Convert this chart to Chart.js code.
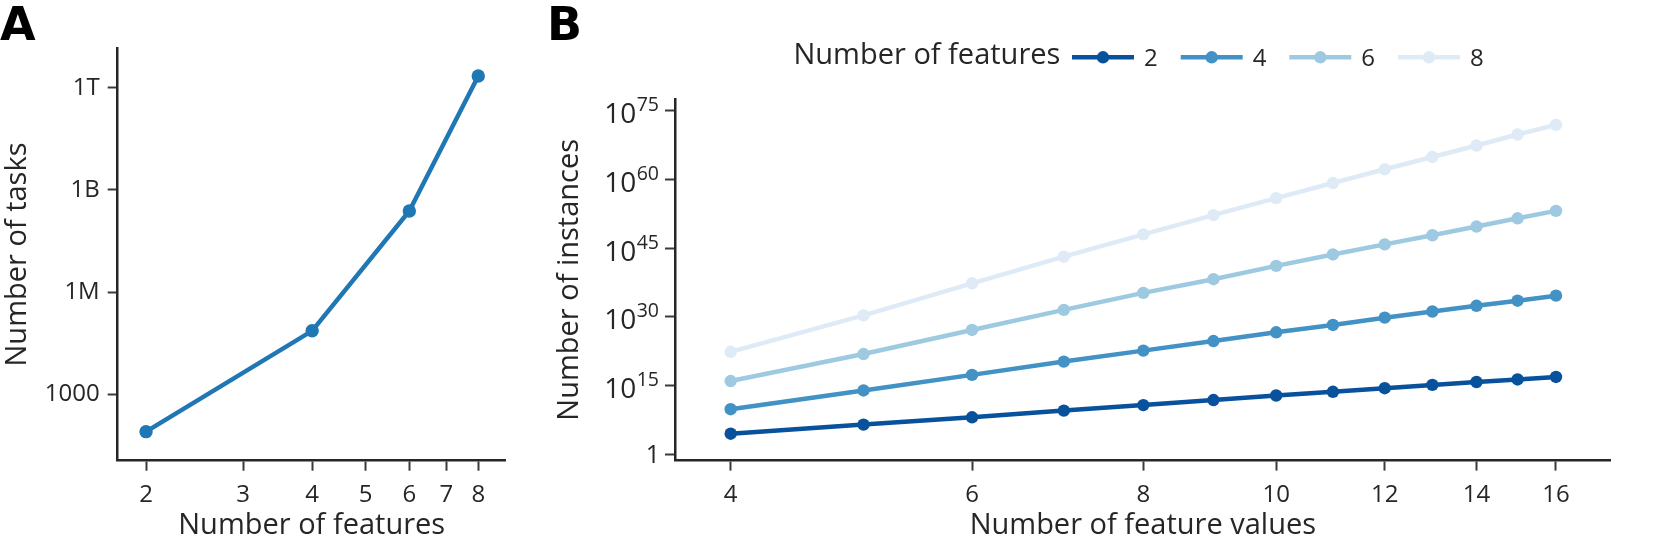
<!DOCTYPE html>
<html><head><meta charset="utf-8">
<script src="https://cdn.jsdelivr.net/npm/chart.js@4.4.1/dist/chart.umd.min.js"></script>
<style>
html,body{margin:0;padding:0;background:#fff;}
#wrap{position:relative;width:1659px;height:553px;overflow:hidden;background:#fff;}
canvas{position:absolute;left:0;top:0;}
.panel{position:absolute;font-family:'DejaVu Sans';font-weight:bold;font-size:46px;line-height:1;color:#000;}
</style></head><body>
<div id="wrap">
<canvas id="cA" width="1659" height="553"></canvas>
<canvas id="cB" width="1659" height="553"></canvas>
<div class="panel" style="left:0px;top:1px">A</div>
<div class="panel" style="left:547px;top:1px">B</div>
</div>
<script>
// ---------- Panel A data ----------
const featuresA = [2, 4, 6, 8];
const tasksA = [80, 7.3e4, 2.4e8, 2.2e12];
const aXTicks = [2, 3, 4, 5, 6, 7, 8];
const aYTicks = [1e3, 1e6, 1e9, 1e12];
const aYTickLabels = ['1000', '1M', '1B', '1T'];

// ---------- Panel B data ----------
const featureValues = [4, 5, 6, 7, 8, 9, 10, 11, 12, 13, 14, 15, 16];
const inst2 = [2.8e4, 2.8e6, 1.1e8, 3.2e9, 5e10, 6.3e11, 6.3e12, 4e13, 2.5e14, 1.3e15, 5.6e15, 2e16, 7.1e16];
const inst4 = [6.3e9, 7.9e13, 2e17, 1.6e20, 4e22, 5e24, 4e26, 1.6e28, 6.3e29, 1.4e31, 2.5e32, 3.2e33, 4e34];
const inst6 = [8.9e15, 7.1e21, 1.3e27, 3.2e31, 1.6e35, 1.6e38, 1.3e41, 4e43, 6.3e45, 6.3e47, 5e49, 3.2e51, 1.3e53];
const inst8 = [2.2e22, 2e30, 2e37, 1.3e43, 1e48, 1.6e52, 7.9e55, 1.6e59, 1.6e62, 7.9e64, 2.5e67, 6.3e69, 7.9e71];
const seriesNames = ['2', '4', '6', '8'];
const bXTicks = [4, 6, 8, 10, 12, 14, 16];
const bYTicks = [1, 1e15, 1e30, 1e45, 1e60, 1e75];
const bYTickLabels = [['1', ''], ['10', '15'], ['10', '30'], ['10', '45'], ['10', '60'], ['10', '75']];
const legendTitle = 'Number of features';

// ---------- styles ----------
const TEXT = '#262626';
const AXIS = '#262626';
const FONT = "'Open Sans'";
const seriesColors = ['#08519c', '#4292c6', '#9ecae1', '#deebf7'];

function axisBase(extra) {
  return Object.assign({
    type: 'logarithmic',
    grid: { display: true, drawOnChartArea: false, drawTicks: true, tickLength: 10, tickWidth: 2, tickColor: '#3a3a3a' },
    border: { display: true, color: AXIS, width: 2.5 },
  }, extra);
}

// Panel A
new Chart(document.getElementById('cA'), {
  type: 'line',
  data: {
    datasets: [{
      data: featuresA.map((x, i) => ({ x: x, y: tasksA[i] })),
      borderColor: '#1f77b4', backgroundColor: '#1f77b4',
      borderWidth: 4.5, pointRadius: 6.7, pointHoverRadius: 6.7, pointBorderWidth: 0, tension: 0
    }]
  },
  options: {
    responsive: false, animation: false, devicePixelRatio: 1,
    layout: { autoPadding: false, padding: { left: 0, top: 48.3, right: 1659 - 505.7, bottom: 0 } },
    plugins: { legend: { display: false }, tooltip: { enabled: false } },
    scales: {
      x: axisBase({
        position: 'bottom', min: 1.777, max: 8.97,
        afterFit: s => { s.height = 553 - 460.7; },
        afterBuildTicks: s => { s.ticks = aXTicks.map(v => ({ value: v })); },
        ticks: { autoSkip: false, maxRotation: 0, padding: 10, color: TEXT, font: { family: FONT, size: 24 }, callback: v => String(v) },
        title: { display: true, text: 'Number of features', color: TEXT, font: { family: FONT, size: 29 }, padding: { top: 0, bottom: 10 } }
      }),
      y: axisBase({
        position: 'left', min: 11.25, max: 1.43e13,
        afterFit: s => { s.width = 117.7; },
        afterBuildTicks: s => { s.ticks = aYTicks.map(v => ({ value: v })); },
        ticks: { autoSkip: false, padding: 8, color: TEXT, font: { family: FONT, size: 24 },
          callback: v => { const i = aYTicks.indexOf(v); return i >= 0 ? aYTickLabels[i] : ''; } },
        title: { display: true, text: 'Number of tasks', color: TEXT, font: { family: FONT, size: 29 }, padding: { top: 0, bottom: 0 } }
      })
    }
  }
});

// Panel B plugins: superscript tick labels + legend
const supLabels = {
  id: 'supLabels',
  afterDraw(chart) {
    const ys = chart.scales.y, ctx = chart.ctx;
    const right = chart.chartArea.left - 16;
    ctx.save();
    ctx.fillStyle = TEXT; ctx.textAlign = 'right'; ctx.textBaseline = 'alphabetic';
    ys.ticks.forEach(t => {
      const i = bYTicks.indexOf(t.value);
      if (i < 0) return;
      const py = ys.getPixelForValue(t.value);
      const [base, sup] = bYTickLabels[i];
      if (!sup) {
        ctx.font = `25px ${FONT}`;
        ctx.fillText(base, right + 1, py + 9);
      } else {
        ctx.font = `19.5px ${FONT}`;
        const w = ctx.measureText(sup).width;
        ctx.fillText(sup, right, py + 0.5);
        ctx.font = `28px ${FONT}`;
        ctx.fillText(base, right - w - 0.5, py + 12.5);
      }
    });
    ctx.restore();
  }
};
const featLegend = {
  id: 'featLegend',
  afterDraw(chart) {
    const ctx = chart.ctx;
    ctx.save();
    ctx.fillStyle = TEXT; ctx.textAlign = 'left'; ctx.textBaseline = 'alphabetic';
    ctx.font = `29px ${FONT}`;
    ctx.fillText(legendTitle, 793.5, 64);
    const starts = [1072, 1180.7, 1289.3, 1398];
    chart.data.datasets.forEach((ds, i) => {
      const x0 = starts[i], y = 57.3, len = 62;
      ctx.strokeStyle = ds.borderColor; ctx.lineWidth = 4.5; ctx.lineCap = 'butt';
      ctx.beginPath(); ctx.moveTo(x0, y); ctx.lineTo(x0 + len, y); ctx.stroke();
      ctx.fillStyle = ds.borderColor;
      ctx.beginPath(); ctx.arc(x0 + len / 2, y, 6.2, 0, Math.PI * 2); ctx.fill();
      ctx.fillStyle = TEXT; ctx.font = `24px ${FONT}`;
      ctx.fillText(ds.label, x0 + len + 10, 66);
    });
    ctx.restore();
  }
};

const bSeries = [inst2, inst4, inst6, inst8];
new Chart(document.getElementById('cB'), {
  type: 'line',
  data: {
    datasets: bSeries.map((arr, k) => ({
      label: seriesNames[k],
      data: featureValues.map((x, i) => ({ x: x, y: arr[i] })),
      borderColor: seriesColors[k], backgroundColor: seriesColors[k],
      borderWidth: 4.5, pointRadius: 6.2, pointHoverRadius: 6.2, pointBorderWidth: 0, tension: 0
    }))
  },
  options: {
    responsive: false, animation: false, devicePixelRatio: 1,
    layout: { autoPadding: false, padding: { left: 540, top: 99, right: 1659 - 1610.7, bottom: 0 } },
    plugins: { legend: { display: false }, tooltip: { enabled: false } },
    scales: {
      x: axisBase({
        position: 'bottom', min: 3.643, max: 17.54,
        afterFit: s => { s.height = 553 - 460.6; },
        afterBuildTicks: s => { s.ticks = bXTicks.map(v => ({ value: v })); },
        ticks: { autoSkip: false, maxRotation: 0, padding: 10, color: TEXT, font: { family: FONT, size: 24 }, callback: v => String(v) },
        title: { display: true, text: 'Number of feature values', color: TEXT, font: { family: FONT, size: 29 }, padding: { top: 0, bottom: 10 } }
      }),
      y: axisBase({
        position: 'left', min: 0.038, max: 3.6e77,
        afterFit: s => { s.width = 135; },
        afterBuildTicks: s => { s.ticks = bYTicks.map(v => ({ value: v })); },
        ticks: { autoSkip: false, padding: 8, color: TEXT, font: { family: FONT, size: 24 }, callback: () => '' },
        title: { display: true, text: 'Number of instances', color: TEXT, font: { family: FONT, size: 29 }, padding: { top: 12.6, bottom: 0 } }
      })
    }
  },
  plugins: [supLabels, featLegend]
});
</script>
</body></html>
